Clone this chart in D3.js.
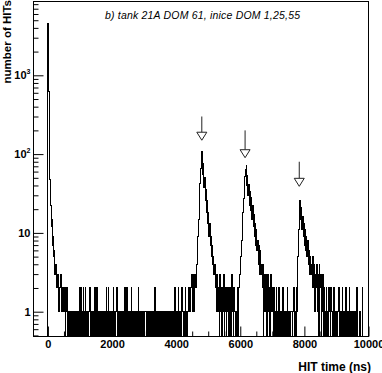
<!DOCTYPE html>
<html><head><meta charset="utf-8">
<script src="https://cdn.jsdelivr.net/npm/d3@7"></script>
<style>html,body{margin:0;padding:0;background:#fff;} svg{display:block;}</style>
</head><body><svg id="c" width="382" height="373"></svg>
<script>
// ---------- data (bin width 20 ns) ----------
const binWidth = 20;
const promptStart = 0;
const promptCounts = [4500,620,140,48,22,12,15,7,9,5, 6,3,4,2,3,2,3,1,2,2, 3,1,2,1,2];
const background1Start = 500;
const background1Counts = [
 1,2,0,1,2,0,1,0,1,0,1,0,1,1,0,1,0,1,0,1,
 0,1,0,1,0,2,0,2,0,1,2,0,1,2,0,1,0,1,0,1,
 2,0,1,0,1,0,1,0,2,0,2,2,0,1,0,1,0,1,0,1,
 0,1,0,1,0,1,2,0,1,2,0,1,0,1,0,1,0,2,0,1,
 0,1,2,0,1,0,1,0,1,0,1,0,1,0,1,2,0,2,2,0,
 1,0,1,0,1,2,0,1,0,1,0,1,0,1,0,1,2,0,1,0,
 1,0,1,0,1,0,1,1,0,1,0,1,0,1,0,1,0,1,0,1,
 0,1,2,0,1,0,1,0,1,0,1,0,1,0,1,0,1,0,1,0,
 1,0,1,0,1,0,1,0,1,0,1,0,1,2,0,1,0,1,2,0,
 1,0,1,0,2,1,0,1,0,2,1,0,1,1,2,1,2,1,2,3];
const pulse1Start = 4500;
const pulse1Counts = [
 2,1,3,1,2,3,2,4,6,9,
 15,25,42,65,92,107,55,76,38,51,
 26,36,18,26,13,18,9,13,7,9,
 5,7,4,5,3,4,2,3,1,3,
 1,2,0,3,1,2,0,2,1,3,
 0,2,1,0,2,1,0,2,0,1,
 2,0,3,1,0,2,1,0,1,0,
 2,1,0,2,3];
const pulse2Start = 6000;
const pulse2Counts = [
 4,5,8,12,18,27,38,52,64,71,
 40,54,30,41,22,34,19,28,15,22,
 12,17,9,13,7,11,6,8,4,7,
 3,6,3,4,2,4,0,3,1,2,
 3,0,2,3,1,2,0,3,1,2,
 1,2,0,2,1,0,2,1,0,1,
 2,0,1,0,1,0,2,1,0,1,
 0,1,0,2,0,1,0,1,0,1];
const pulse3Start = 7600;
const pulse3Counts = [
 1,0,1,2,0,1,0,2,1,3,
 5,11,20,26,15,21,11,16,9,13,
 7,11,6,9,5,8,4,6,3,5,
 3,4,2,5,2,4,1,3,2,4,
 1,3,0,4,2,3,0,3,1,3,
 0,2,1,0,2,1,0,2,1,2,
 0,1,2,1,0,1,2,0,1,0,
 1,0,1,2,0,1,0,1,0,2,
 1,0,1,0,2,1,0,1,0,1,
 2,0,1,0,0,1,0,0,1,0,
 0,0,2,0,0,0,1,0,0,0,
 2,0,0,0,0,0,0,0,0,0];

const xMajorTicks = [0,2000,4000,6000,8000,10000];
const xTickLabels = ["0","2000","4000","6000","8000","10000"];
const yMajorTicks = [1,10,100,1000];
const yTickBase = ["1","10","10","10"];
const yTickExp  = ["","","2","3"];
const arrowTimes = [4800,6150,7840];
const arrowTipCounts = [150,90,39];
const arrowTailCounts = [300,200,80];
const titleText = "b) tank 21A DOM 61, inice DOM 1,25,55";
const xTitle = "HIT time (ns)";
const yTitle = "number of HITs";

// ---------- build ----------
const segments = [[promptStart,promptCounts],[background1Start,background1Counts],
  [pulse1Start,pulse1Counts],[pulse2Start,pulse2Counts],[pulse3Start,pulse3Counts]];
const bins = [];
segments.forEach(([s,arr]) => arr.forEach((c,i) => bins.push({t0:s+i*binWidth, t1:s+(i+1)*binWidth, c})));

const L = 33.5, R = 368.5, T = 1.5, B = 336.5;
const x = d3.scaleLinear().domain([-450,10000]).range([L,R]);
const y = d3.scaleLog().domain([0.4845,8642]).range([B,T]);

const svg = d3.select("#c");
const font = "'Liberation Sans', Arial, Helvetica, sans-serif";

svg.append("defs").append("clipPath").attr("id","clip")
  .append("rect").attr("x",L).attr("y",T).attr("width",R-L).attr("height",B-T);

// histogram outline
let d = `M${x(bins[0].t0)},${B}`;
bins.forEach(b => {
  const yy = b.c > 0 ? y(b.c) : B;
  d += `L${x(b.t0)},${yy}L${x(b.t1)},${yy}`;
});
d += `L${x(bins[bins.length-1].t1)},${B}`;
svg.append("path").attr("d",d).attr("fill","none").attr("stroke","#000")
  .attr("stroke-width",1).attr("shape-rendering","crispEdges").attr("clip-path","url(#clip)");

// y axis ticks
const yMinor = [];
[1,10,100,1000].forEach(dec => { for (let k=2;k<=9;k++){ const v=dec*k; if (v<8642) yMinor.push(v);} });
[0.5,0.6,0.7,0.8,0.9].forEach(v => { if (v>0.4845) yMinor.push(v); });
const yAxMaj = svg.append("g").attr("transform",`translate(${L},0)`)
  .call(d3.axisRight(y).tickValues(yMajorTicks).tickSize(10).tickFormat(""));
const yAxMin = svg.append("g").attr("transform",`translate(${L},0)`)
  .call(d3.axisRight(y).tickValues(yMinor).tickSize(5).tickFormat(""));
// x axis ticks
const xMinor = d3.range(0,10001,500).filter(v => v%2000!==0);
const xAxMaj = svg.append("g").attr("transform",`translate(0,${B})`)
  .call(d3.axisTop(x).tickValues(xMajorTicks).tickSize(10).tickFormat(""));
const xAxMin = svg.append("g").attr("transform",`translate(0,${B})`)
  .call(d3.axisTop(x).tickValues(xMinor).tickSize(5).tickFormat(""));
[yAxMaj,yAxMin,xAxMaj,xAxMin].forEach(g => { g.select(".domain").remove(); g.selectAll("line").attr("stroke","#000"); });

// frame
svg.append("rect").attr("x",L).attr("y",T).attr("width",R-L).attr("height",B-T)
  .attr("fill","none").attr("stroke","#000").attr("stroke-width",1);

// x tick labels
const xl = svg.append("g").attr("transform",`translate(0,${B})`)
  .call(d3.axisBottom(x).tickValues(xMajorTicks).tickSize(0).tickPadding(4)
  .tickFormat((v,i) => xTickLabels[i]));
xl.select(".domain").remove();
xl.selectAll("text").attr("font-family",font).attr("font-weight","bold").attr("font-size","11px")
  .attr("fill","#000").attr("dy","0.72em");

// y tick labels
yMajorTicks.forEach((v,i) => {
  const t = svg.append("text").attr("x",30.5).attr("y",y(v)).attr("dy","0.36em")
    .attr("text-anchor","end").attr("font-family",font).attr("font-weight","bold")
    .attr("font-size","11px").attr("fill","#000");
  t.append("tspan").text(yTickBase[i]);
  if (yTickExp[i]) t.append("tspan").attr("font-size","7px").attr("dy","-5").text(yTickExp[i]);
});

// arrows
arrowTimes.forEach((t,i) => {
  const ax = x(t), tip = y(arrowTipCounts[i]), tail = y(arrowTailCounts[i]);
  svg.append("line").attr("x1",ax).attr("x2",ax).attr("y1",tail).attr("y2",tip-8)
    .attr("stroke","#222").attr("stroke-width",1);
  svg.append("path").attr("d",`M${ax-5},${tip-8}L${ax+5},${tip-8}L${ax},${tip}Z`)
    .attr("fill","#fff").attr("stroke","#222").attr("stroke-width",1);
});

// titles
svg.append("text").attr("x",105).attr("y",19).attr("font-family",font).attr("font-style","italic")
  .attr("font-size","10.5px").attr("fill","#000").attr("textLength",195).attr("lengthAdjust","spacing")
  .text(titleText);
svg.append("text").attr("x",371).attr("y",370.5).attr("text-anchor","end").attr("font-family",font)
  .attr("font-weight","bold").attr("font-size","12px").attr("fill","#000").text(xTitle);
svg.append("text").attr("transform","translate(10.5,0) rotate(-90)").attr("text-anchor","end")
  .attr("font-family",font).attr("font-weight","bold").attr("font-size","11.5px").attr("fill","#000")
  .text(yTitle);
</script></body></html>
